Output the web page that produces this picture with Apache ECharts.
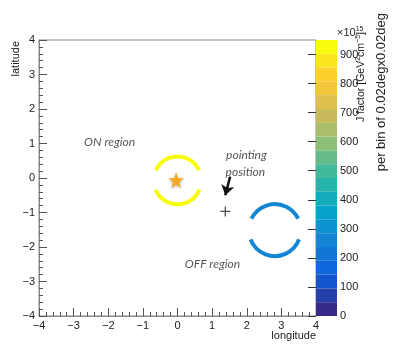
<!DOCTYPE html>
<html>
<head>
<meta charset="utf-8">
<script src="https://cdn.jsdelivr.net/npm/echarts@6/dist/echarts.min.js"></script>
<style>
  html, body { margin: 0; padding: 0; background: #fff; }
  #chart { width: 393px; height: 360px; }
</style>
</head>
<body>
<div id="chart"></div>
<script>
// ring arcs: centre and radius in deg, angular span in deg (0 = +longitude, ccw), J in 1e15 GeV^2 cm^-5
const arcLon = [0, 0, 2.81, 2.81];
const arcLat = [-0.07, -0.07, -1.51, -1.51];
const arcRadius = [0.69, 0.69, 0.75, 0.75];
const arcFrom = [25, 203, 26, 201];
const arcTo = [155, 337, 154, 339];
const arcJ = [930, 930, 250, 250];

// markers and notes
const starLon = [-0.04];
const starLat = [-0.06];
const pointLon = [1.38];
const pointLat = [-0.97];
const arrowFrom = [1.52, 0.04];
const arrowTo = [1.38, -0.5];
const noteText = ["ON region", "pointing", "position", "OFF region"];
const noteLon = [-1.96, 1.99, 1.96, 1.01];
const noteLat = [1.03, 0.66, 0.17, -2.49];

// colour scale
const jMin = 0;
const jMax = 950;
const jLevels = 20;
const colorTicks = [0, 100, 200, 300, 400, 500, 600, 700, 800, 900];

const birdPalette = [
  "#352a87", "#0f5cdd", "#1481d6", "#06a4ca", "#2eb7a4",
  "#87bf77", "#d1bb59", "#fec832", "#f9fb0e",
];

const font = "Liberation Sans";
const frameColor = "#8a8a8a";
const minus = (v) => (v < 0 ? "\u2212" + Math.abs(v) : String(v));

const chart = echarts.init(document.getElementById("chart"));

const arcData = arcLon.map((lon, i) => [lon, arcLat[i], arcRadius[i], arcFrom[i], arcTo[i], arcJ[i]]);

const mainAxis = {
  gridIndex: 0,
  type: "value",
  min: -4,
  max: 4,
  interval: 1,
  axisLine: { onZero: false, lineStyle: { color: frameColor } },
  axisTick: { inside: true, length: 8, lineStyle: { color: "#555" } },
  minorTick: { show: true, splitNumber: 5, length: 4, lineStyle: { color: "#555" } },
  splitLine: { show: false },
  axisLabel: { fontFamily: font, fontSize: 11, color: "#222", margin: 4, formatter: minus },
};

chart.setOption({
  animation: false,
  grid: [
    { left: 39, top: 40, width: 277, height: 276, show: true, borderColor: frameColor, borderWidth: 1, backgroundColor: "transparent" },
    { left: 316, top: 40, width: 21, height: 276 },
  ],
  xAxis: [
    mainAxis,
    { gridIndex: 1, type: "value", min: 0, max: 1, show: false },
  ],
  yAxis: [
    mainAxis,
    {
      gridIndex: 1,
      type: "value",
      position: "right",
      min: jMin,
      max: jMax,
      z: 10,
      axisLine: { show: false },
      axisTick: { inside: true, length: 8, customValues: colorTicks, lineStyle: { color: "#333" } },
      splitLine: { show: false },
      axisLabel: { fontFamily: font, fontSize: 11, color: "#222", margin: 3, customValues: colorTicks },
    },
  ],
  visualMap: {
    type: "piecewise",
    seriesIndex: 0,
    dimension: 5,
    min: jMin,
    max: jMax,
    splitNumber: jLevels,
    inRange: { color: birdPalette },
    orient: "vertical",
    left: 316,
    top: 40,
    padding: 0,
    itemWidth: 21,
    itemHeight: 276 / jLevels,
    itemGap: 0,
    itemSymbol: "rect",
    showLabel: false,
    selectedMode: false,
    hoverLink: false,
  },
  graphic: [
    { type: "text", x: 16, y: 41, rotation: Math.PI / 2, style: { text: "latitude", font: `11px "${font}"`, fill: "#222", align: "right", verticalAlign: "middle" } },
    { type: "text", x: 316, y: 330, style: { text: "longitude", font: `11px "${font}"`, fill: "#222", align: "right", verticalAlign: "top" } },
    {
      type: "text", x: 337, y: 39,
      style: {
        text: "\u00d710{s|15}", font: `11px "${font}"`, fill: "#222", align: "left", verticalAlign: "bottom",
        rich: { s: { fontSize: 7, fontFamily: font, verticalAlign: "top", padding: [0, 0, 6, 0] } },
      },
    },
    {
      type: "text", x: 361, y: 32, rotation: Math.PI / 2,
      style: {
        text: "J factor [GeV{s|2}cm{s|\u22125}]", font: `10.5px "${font}"`, fill: "#222", align: "right", verticalAlign: "middle",
        rich: { s: { fontSize: 7, fontFamily: font, padding: [0, 0, 6, 0] } },
      },
    },
    { type: "text", x: 381, y: 13, rotation: Math.PI / 2, style: { text: "per bin of 0.02degx0.02deg", font: `13px "${font}"`, fill: "#222", align: "right", verticalAlign: "middle" } },
  ],
  series: [
    {
      type: "custom",
      xAxisIndex: 0,
      yAxisIndex: 0,
      data: arcData,
      renderItem: (params, api) => {
        const c = api.coord([api.value(0), api.value(1)]);
        const r = api.size([api.value(2), 0])[0];
        return {
          type: "arc",
          shape: {
            cx: c[0],
            cy: c[1],
            r,
            startAngle: (-api.value(4) * Math.PI) / 180,
            endAngle: (-api.value(3) * Math.PI) / 180,
            clockwise: true,
          },
          style: { stroke: api.visual("color"), lineWidth: 4, fill: null },
        };
      },
    },
    {
      type: "scatter",
      xAxisIndex: 0,
      yAxisIndex: 0,
      z: 5,
      symbol: "path://M50,0 L61,35 L98,35 L68,57 L79,91 L50,70 L21,91 L32,57 L2,35 L39,35 Z",
      symbolSize: 16,
      itemStyle: { color: "#f5a81e", opacity: 1, shadowBlur: 3, shadowColor: "rgba(0,0,0,0.3)", shadowOffsetY: 1 },
      data: starLon.map((lon, i) => [lon, starLat[i]]),
    },
    {
      type: "scatter",
      xAxisIndex: 0,
      yAxisIndex: 0,
      symbol: "path://M5,0 L5,10 M0,5 L10,5",
      symbolSize: 10,
      itemStyle: { color: "none", borderColor: "#222", borderWidth: 1.3 },
      data: pointLon.map((lon, i) => [lon, pointLat[i]]),
    },
    {
      type: "scatter",
      xAxisIndex: 0,
      yAxisIndex: 0,
      symbolSize: 0,
      data: noteText.map((t, i) => ({ name: t, value: [noteLon[i], noteLat[i]] })),
      label: {
        show: true,
        position: "inside",
        formatter: "{b}",
        fontFamily: "Lato",
        fontStyle: "italic",
        fontSize: 12,
        color: "#2a2a2a",
      },
      markLine: {
        silent: true,
        symbol: ["none", "arrow"],
        symbolSize: 10,
        label: { show: false },
        lineStyle: { color: "#111", width: 2.5, type: "solid" },
        data: [[{ coord: arrowFrom }, { coord: arrowTo }]],
      },
    },
  ],
});
</script>
</body>
</html>
